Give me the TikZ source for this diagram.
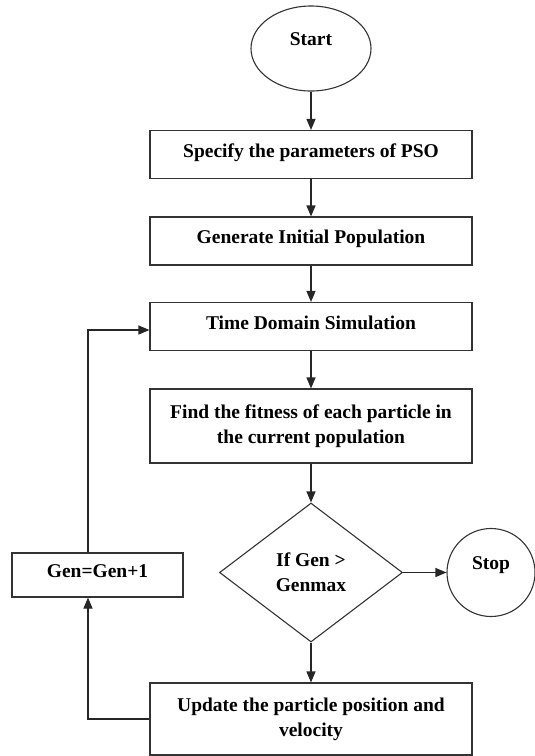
\documentclass[tikz,border=0pt]{standalone}
\usepackage{fontspec}
\setmainfont{Liberation Serif}
\usetikzlibrary{shapes.geometric,arrows.meta}
\tikzset{
    >={Triangle[length=11pt,width=9pt]},
    trait/.style={draw=black!80, line width=1.1pt},
    texte/.style={font=\fontsize{19.5}{25}\selectfont\bfseries, align=center},
    boite/.style={trait, texte, rectangle, minimum width=322pt, minimum height=48pt},
    ligne/.style={boite, text height=13pt, text depth=8pt},
    rond/.style={trait, texte, text height=13pt, text depth=20pt},
    fleche/.style={->, line width=1.1pt, draw=black!85},
}
\begin{document}
\begin{tikzpicture}[x=1pt, y=-1pt]
        \useasboundingbox (0,0) rectangle (535,756);

        % Debut
        \node [rond, ellipse, minimum width=120pt, minimum height=85pt] (start) at (311,48.5) {Start};

        % Etapes (colonne centrale)
        \node [ligne] (param) at (311,154.5) {Specify the parameters of PSO};
        \node [ligne] (pop) at (311,241) {Generate Initial Population};
        \node [ligne] (sim) at (311,326.5) {Time Domain Simulation};
        \node [boite, minimum height=74pt] (fit) at (311,426) {Find the fitness of each particle in\\the current population};

        % Test d'arret
        \node [trait, texte, diamond, aspect=1.32, minimum width=183pt, minimum height=139pt, inner sep=0pt] (test) at (311,572.5) {If Gen >\\Genmax};
        \node [rond, circle, minimum size=88pt] (stop) at (491,572.5) {Stop};

        % Mise a jour
        \node [boite, minimum height=72pt] (upd) at (311,719) {Update the particle position and\\velocity};

        % Boucle (gauche)
        \node [ligne, minimum width=171pt, minimum height=44pt] (gen) at (97.5,575) {Gen=Gen+1};

        % Fleches
        \draw [fleche] (start) -- (param);
        \draw [fleche] (param) -- (pop);
        \draw [fleche] (pop) -- (sim);
        \draw [fleche] (sim) -- (fit);
        \draw [fleche] (fit) -- (test);
        \draw [fleche] (test) -- (stop);
        \draw [fleche] (test) -- (upd);
        \draw [fleche] (upd.west) -| ([xshift=-9.5pt]gen.south);
        \draw [fleche] ([xshift=-9.5pt]gen.north) |- ([yshift=-3.5pt]sim.west);
    \end{tikzpicture}
\end{document}
